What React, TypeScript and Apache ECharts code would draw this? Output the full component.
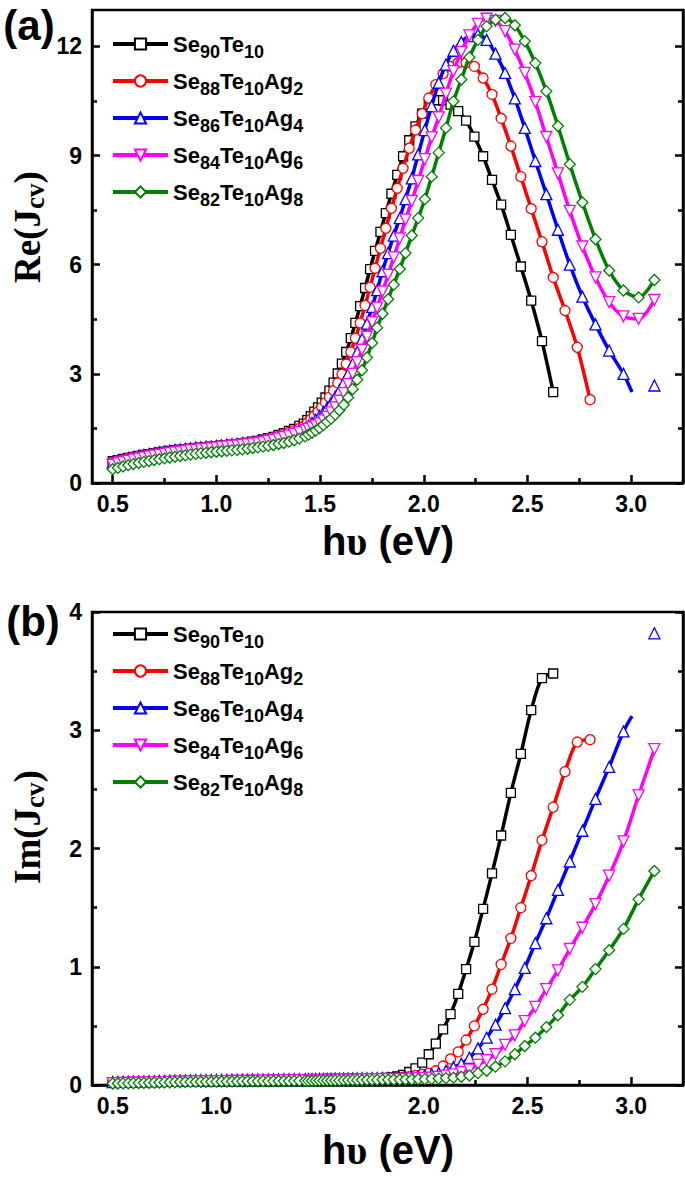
import React, { useEffect, useRef } from "react";
import * as echarts from "echarts";

// ---------- labels / styles ----------
const seriesNames = ["Se90Te10", "Se88Te10Ag2", "Se86Te10Ag4", "Se84Te10Ag6", "Se82Te10Ag8"];
const legendParts = [
  ["Se", "90", "Te", "10"],
  ["Se", "88", "Te", "10", "Ag", "2"],
  ["Se", "86", "Te", "10", "Ag", "4"],
  ["Se", "84", "Te", "10", "Ag", "6"],
  ["Se", "82", "Te", "10", "Ag", "8"],
];
const colors = ["#000000", "#ff0000", "#0000ff", "#ff00ff", "#008000"];
const symbols = ["rect", "circle", "triangle", "triangle", "diamond"];
const symbolRotates = [0, 0, 0, 180, 0];
const symbolSizes = [9, 10, 11, 11, 11];

// ---------- ticks ----------
const xMajor = [0.5, 1.0, 1.5, 2.0, 2.5, 3.0];
const xMinor = [0.75, 1.25, 1.75, 2.25, 2.75];
const reMajor = [0, 3, 6, 9, 12];
const reMinor = [1.5, 4.5, 7.5, 10.5];
const imMajor = [0, 1, 2, 3, 4];
const imMinor = [0.5, 1.5, 2.5, 3.5];

// ---------- photon energy grids (eV) ----------
const lowE = [0.5, 0.525, 0.55, 0.575, 0.6, 0.625, 0.65, 0.675, 0.7, 0.725, 0.75, 0.775, 0.8, 0.825, 0.85, 0.875, 0.9, 0.925, 0.95, 0.975, 1.0, 1.025, 1.05, 1.075, 1.1, 1.125, 1.15, 1.175, 1.2, 1.225, 1.25, 1.275, 1.3, 1.325, 1.35, 1.375, 1.4];
const gridA = [1.421, 1.438, 1.455, 1.472, 1.49, 1.508, 1.526, 1.545, 1.565, 1.585, 1.605, 1.626, 1.648, 1.67, 1.693, 1.717, 1.741, 1.765, 1.791, 1.817, 1.844, 1.872, 1.9, 1.93, 1.96, 1.992, 2.024, 2.058, 2.093, 2.129, 2.166, 2.204, 2.244, 2.286, 2.329, 2.373, 2.42, 2.468, 2.518, 2.57, 2.624, 2.681, 2.74, 2.802];
const gridB = [1.428, 1.444, 1.461, 1.479, 1.497, 1.516, 1.534, 1.553, 1.573, 1.593, 1.614, 1.635, 1.657, 1.679, 1.702, 1.726, 1.751, 1.775, 1.801, 1.828, 1.855, 1.884, 1.912, 1.942, 1.973, 2.005, 2.038, 2.072, 2.107, 2.143, 2.181, 2.22, 2.261, 2.303, 2.346, 2.392, 2.439, 2.487, 2.538, 2.591, 2.647, 2.704, 2.765, 2.828, 2.894, 2.963, 3.036, 3.112];
const blueTailE = [3.004, 3.112];

// ---------- Re(Jcv) ----------
const reBlackLow = [0.6, 0.63, 0.66, 0.69, 0.72, 0.745, 0.77, 0.795, 0.82, 0.84, 0.86, 0.88, 0.9, 0.915, 0.93, 0.945, 0.96, 0.972, 0.985, 0.997, 1.01, 1.025, 1.04, 1.055, 1.07, 1.09, 1.11, 1.135, 1.16, 1.195, 1.23, 1.27, 1.32, 1.37, 1.43, 1.49, 1.57];
const reRedLow = [0.58, 0.615, 0.645, 0.68, 0.71, 0.735, 0.76, 0.785, 0.81, 0.83, 0.85, 0.87, 0.89, 0.91, 0.925, 0.945, 0.96, 0.972, 0.985, 0.997, 1.01, 1.025, 1.04, 1.055, 1.07, 1.09, 1.11, 1.13, 1.15, 1.18, 1.215, 1.25, 1.29, 1.34, 1.39, 1.44, 1.5];
const reBlueLow = [0.57, 0.61, 0.645, 0.68, 0.71, 0.74, 0.77, 0.795, 0.82, 0.845, 0.87, 0.89, 0.91, 0.925, 0.94, 0.955, 0.97, 0.982, 0.995, 1.007, 1.02, 1.035, 1.05, 1.065, 1.08, 1.095, 1.11, 1.13, 1.15, 1.18, 1.21, 1.24, 1.27, 1.31, 1.35, 1.4, 1.45];
const reMagentaLow = [0.5, 0.54, 0.575, 0.61, 0.64, 0.67, 0.7, 0.725, 0.75, 0.775, 0.8, 0.82, 0.84, 0.86, 0.88, 0.895, 0.91, 0.925, 0.94, 0.955, 0.97, 0.985, 1.0, 1.015, 1.03, 1.045, 1.06, 1.08, 1.1, 1.125, 1.155, 1.185, 1.22, 1.26, 1.3, 1.35, 1.4];
const reGreenLow = [0.38, 0.42, 0.455, 0.49, 0.52, 0.55, 0.58, 0.605, 0.63, 0.655, 0.675, 0.7, 0.72, 0.74, 0.76, 0.78, 0.8, 0.815, 0.83, 0.845, 0.86, 0.872, 0.885, 0.897, 0.91, 0.925, 0.94, 0.96, 0.98, 1.0, 1.02, 1.045, 1.07, 1.1, 1.135, 1.175, 1.22];

const reBlackHigh = [1.63, 1.73, 1.84, 1.96, 2.08, 2.21, 2.35, 2.54, 2.76, 3.01, 3.28, 3.6, 3.98, 4.4, 4.86, 5.36, 5.88, 6.38, 6.9, 7.42, 7.95, 8.47, 8.98, 9.42, 9.8, 10.15, 10.4, 10.52, 10.52, 10.4, 10.22, 9.96, 9.52, 8.98, 8.33, 7.65, 6.82, 5.95, 5.01, 3.9, 2.5];
const reRedHigh = [1.56, 1.65, 1.75, 1.85, 1.96, 2.08, 2.21, 2.36, 2.54, 2.75, 2.99, 3.27, 3.6, 3.98, 4.4, 4.88, 5.38, 5.9, 6.45, 7.0, 7.55, 8.1, 8.65, 9.2, 9.7, 10.15, 10.58, 10.95, 11.25, 11.45, 11.55, 11.55, 11.45, 11.13, 10.68, 10.02, 9.26, 8.42, 7.54, 6.63, 5.65, 4.74, 3.73, 2.29];
const reBlueHigh = [1.5, 1.57, 1.65, 1.74, 1.84, 1.95, 2.07, 2.21, 2.37, 2.55, 2.76, 3.0, 3.28, 3.6, 3.96, 4.38, 4.84, 5.3, 5.82, 6.32, 6.8, 7.28, 7.8, 8.37, 9.03, 9.7, 10.36, 11.0, 11.5, 11.88, 12.12, 12.28, 12.33, 12.18, 11.8, 11.27, 10.57, 9.76, 8.85, 7.94, 6.96, 6.0, 5.12, 4.36, 3.64, 3.0];
const reBlueTail = [2.5, 2.68];
const reMagentaHigh = [1.45, 1.49, 1.53, 1.58, 1.64, 1.72, 1.82, 1.94, 2.08, 2.26, 2.47, 2.72, 3.0, 3.32, 3.66, 4.02, 4.42, 4.82, 5.26, 5.72, 6.2, 6.72, 7.24, 7.75, 8.3, 8.9, 9.5, 10.05, 10.7, 11.32, 11.85, 12.3, 12.62, 12.76, 12.7, 12.42, 11.91, 11.27, 10.47, 9.51, 8.51, 7.48, 6.5, 5.65, 4.97, 4.58, 4.51, 5.03];
const reGreenHigh = [1.28, 1.33, 1.38, 1.44, 1.51, 1.59, 1.68, 1.77, 1.88, 2.0, 2.15, 2.35, 2.58, 2.84, 3.1, 3.45, 3.85, 4.27, 4.65, 5.05, 5.45, 5.88, 6.32, 6.8, 7.28, 7.8, 8.42, 9.08, 9.76, 10.49, 11.09, 11.7, 12.18, 12.55, 12.73, 12.78, 12.58, 12.14, 11.54, 10.77, 9.81, 8.76, 7.71, 6.7, 5.84, 5.29, 5.1, 5.58];

// ---------- Im(Jcv) ----------
const imBlackLow = [0.02, 0.021, 0.022, 0.023, 0.024, 0.025, 0.026, 0.027, 0.028, 0.029, 0.03, 0.031, 0.032, 0.033, 0.034, 0.034, 0.035, 0.036, 0.036, 0.037, 0.037, 0.038, 0.038, 0.039, 0.039, 0.04, 0.04, 0.041, 0.041, 0.042, 0.042, 0.043, 0.043, 0.044, 0.044, 0.045, 0.045];
const imRedLow = [0.02, 0.021, 0.022, 0.023, 0.024, 0.025, 0.026, 0.027, 0.028, 0.029, 0.03, 0.031, 0.032, 0.033, 0.033, 0.034, 0.035, 0.035, 0.036, 0.036, 0.037, 0.037, 0.038, 0.038, 0.039, 0.039, 0.04, 0.04, 0.041, 0.041, 0.042, 0.042, 0.043, 0.043, 0.044, 0.044, 0.045];
const imBlueLow = [0.025, 0.026, 0.027, 0.028, 0.029, 0.03, 0.031, 0.032, 0.033, 0.034, 0.035, 0.036, 0.037, 0.038, 0.039, 0.04, 0.04, 0.041, 0.041, 0.042, 0.042, 0.043, 0.043, 0.044, 0.044, 0.045, 0.045, 0.046, 0.046, 0.047, 0.047, 0.048, 0.048, 0.049, 0.049, 0.05, 0.05];
const imMagentaLow = [0.015, 0.016, 0.017, 0.018, 0.019, 0.02, 0.021, 0.022, 0.023, 0.024, 0.025, 0.026, 0.027, 0.028, 0.029, 0.03, 0.03, 0.031, 0.031, 0.032, 0.032, 0.033, 0.033, 0.034, 0.034, 0.035, 0.035, 0.036, 0.036, 0.037, 0.037, 0.038, 0.038, 0.039, 0.039, 0.04, 0.04];
const imGreenLow = [0.012, 0.013, 0.014, 0.015, 0.016, 0.017, 0.018, 0.019, 0.02, 0.021, 0.022, 0.023, 0.024, 0.025, 0.025, 0.026, 0.026, 0.027, 0.027, 0.028, 0.028, 0.029, 0.029, 0.03, 0.03, 0.031, 0.031, 0.032, 0.032, 0.033, 0.033, 0.033, 0.034, 0.034, 0.034, 0.035, 0.035];

const imBlackHigh = [0.045, 0.045, 0.046, 0.046, 0.047, 0.047, 0.048, 0.048, 0.049, 0.049, 0.05, 0.05, 0.051, 0.052, 0.053, 0.054, 0.055, 0.056, 0.058, 0.06, 0.065, 0.072, 0.085, 0.11, 0.14, 0.19, 0.26, 0.35, 0.47, 0.6, 0.77, 0.98, 1.21, 1.49, 1.79, 2.11, 2.47, 2.8, 3.17, 3.44, 3.48];
const imRedHigh = [0.045, 0.045, 0.046, 0.046, 0.047, 0.047, 0.048, 0.048, 0.049, 0.049, 0.05, 0.05, 0.051, 0.051, 0.052, 0.052, 0.053, 0.054, 0.055, 0.056, 0.057, 0.06, 0.065, 0.07, 0.08, 0.09, 0.1, 0.12, 0.16, 0.22, 0.28, 0.38, 0.5, 0.64, 0.81, 1.02, 1.24, 1.5, 1.77, 2.07, 2.35, 2.65, 2.9, 2.92];
const imBlueHigh = [0.05, 0.05, 0.051, 0.051, 0.052, 0.052, 0.053, 0.053, 0.054, 0.054, 0.055, 0.055, 0.056, 0.056, 0.057, 0.057, 0.058, 0.058, 0.059, 0.06, 0.06, 0.062, 0.065, 0.07, 0.075, 0.08, 0.09, 0.1, 0.12, 0.15, 0.18, 0.23, 0.31, 0.4, 0.51, 0.65, 0.81, 0.99, 1.2, 1.41, 1.65, 1.89, 2.15, 2.42, 2.69, 2.99];
const imBlueTail = [3.12, 3.82];
const imMagentaHigh = [0.04, 0.04, 0.041, 0.041, 0.042, 0.042, 0.043, 0.043, 0.044, 0.044, 0.045, 0.045, 0.046, 0.046, 0.047, 0.047, 0.048, 0.048, 0.049, 0.049, 0.05, 0.05, 0.052, 0.054, 0.056, 0.058, 0.062, 0.068, 0.08, 0.09, 0.11, 0.13, 0.17, 0.21, 0.26, 0.34, 0.42, 0.54, 0.66, 0.81, 0.97, 1.15, 1.33, 1.53, 1.77, 2.06, 2.45, 2.84];
const imGreenHigh = [0.035, 0.035, 0.036, 0.036, 0.037, 0.037, 0.038, 0.038, 0.039, 0.039, 0.04, 0.04, 0.041, 0.041, 0.042, 0.042, 0.043, 0.043, 0.044, 0.044, 0.045, 0.045, 0.046, 0.047, 0.048, 0.05, 0.052, 0.055, 0.058, 0.062, 0.07, 0.08, 0.1, 0.12, 0.155, 0.2, 0.26, 0.33, 0.4, 0.49, 0.59, 0.72, 0.83, 0.98, 1.14, 1.32, 1.57, 1.81];

// ---------- helpers ----------
const zip = (xs: number[], ys: number[]) => ys.map((y, i) => [xs[i], y]);
const build = (lowY: number[], grid: number[], highY: number[]) => [...zip(lowE, lowY), ...zip(grid, highY)];
const withTail = (pts: any[], tail: number[]) => [
  ...pts,
  { value: [blueTailE[0], tail[0]], symbol: "none" },
  [blueTailE[1], "-"],
  [blueTailE[1], tail[1]],
];

const SANS = '"Liberation Sans", Arial, sans-serif';
const SERIF = '"Liberation Serif", "Times New Roman", serif';

const tickFont = { fontFamily: SANS, fontWeight: "bold" as const, fontSize: 23, color: "#000" };

function xAxes(g: number) {
  const base = { gridIndex: g, type: "value", min: 0.4, max: 3.25, position: "bottom", splitLine: { show: false } };
  return [
    {
      ...base,
      axisLine: { show: true, onZero: false, lineStyle: { color: "#000", width: 2.5 } },
      axisTick: { show: true, inside: true, length: 8, lineStyle: { color: "#000", width: 2.5 }, customValues: xMajor },
      axisLabel: { show: true, customValues: xMajor, margin: 9, formatter: (v: number) => Number(v).toFixed(1), ...tickFont },
    },
    {
      ...base,
      axisLine: { show: false },
      axisTick: { show: true, inside: true, length: 5, lineStyle: { color: "#000", width: 2.5 }, customValues: xMinor },
      axisLabel: { show: false },
    },
  ];
}

function yAxes(g: number, max: number, major: number[], minor: number[]) {
  const base = { gridIndex: g, type: "value", min: 0, max, splitLine: { show: false } };
  const mk = (pos: string, ticks: number[], len: number, label: boolean, line: boolean) => ({
    ...base,
    position: pos,
    axisLine: { show: line, onZero: false, lineStyle: { color: "#000", width: 2.5 } },
    axisTick: { show: true, inside: true, length: len, lineStyle: { color: "#000", width: 2.5 }, customValues: ticks },
    axisLabel: label
      ? { show: true, customValues: ticks, margin: 10, formatter: (v: number) => String(v), ...tickFont }
      : { show: false },
  });
  return [
    mk("left", major, 8, true, true),
    mk("left", minor, 5, false, false),
    mk("right", major, 8, false, true),
    mk("right", minor, 5, false, false),
  ];
}

function makeSeries(g: number, datas: any[][]) {
  return datas.map((data, i) => ({
    type: "line",
    name: seriesNames[i],
    xAxisIndex: g * 2,
    yAxisIndex: g * 4,
    data,
    smooth: 0.3,
    symbol: symbols[i],
    symbolSize: symbolSizes[i],
    symbolRotate: symbolRotates[i],
    showSymbol: true,
    showAllSymbol: true,
    connectNulls: false,
    lineStyle: { color: colors[i], width: 3.5 },
    itemStyle: { color: "#fff", borderColor: colors[i], borderWidth: 1.3 },
    emphasis: { disabled: true },
    z: 2 + i,
  }));
}

const legendFormatter = (name: string) => {
  const parts = legendParts[seriesNames.indexOf(name)] || [name];
  return parts.map((p, i) => (i % 2 === 0 ? `{b|${p}}` : `{s|${p}}`)).join("");
};

function makeLegend(top: number) {
  return {
    show: true,
    orient: "vertical",
    left: 111,
    top,
    padding: 0,
    itemWidth: 55,
    itemHeight: 14,
    itemGap: 9,
    selectedMode: false,
    data: seriesNames,
    formatter: legendFormatter,
    lineStyle: { width: 4 },
    textStyle: {
      color: "#000",
      rich: {
        b: { fontFamily: SANS, fontWeight: "bold", fontSize: 22, lineHeight: 36, color: "#000" },
        s: { fontFamily: SANS, fontWeight: "bold", fontSize: 18, color: "#000", padding: [16, 0, 0, 0] },
      },
    },
  };
}

function yTitle(x: number, y: number, main: string) {
  return {
    type: "text",
    x,
    y,
    rotation: Math.PI / 2,
    style: {
      text: `{m|${main}(J}{s|cv}{m|)}`,
      align: "center",
      verticalAlign: "middle",
      rich: {
        m: { fontFamily: SERIF, fontWeight: "bold", fontSize: 37, fill: "#000" },
        s: { fontFamily: SERIF, fontWeight: "bold", fontSize: 27, fill: "#000", padding: [16, 0, 0, 0] },
      },
    },
  };
}

function xTitle(x: number, y: number) {
  return {
    type: "text",
    x,
    y,
    style: {
      text: "{h|h}{u|υ}{h| (eV)}",
      align: "center",
      verticalAlign: "middle",
      rich: {
        h: { fontFamily: SANS, fontWeight: "bold", fontSize: 40, fill: "#000" },
        u: { fontFamily: SERIF, fontWeight: "bold", fontSize: 40, fill: "#000" },
      },
    },
  };
}

function panelLabel(x: number, y: number, t: string) {
  return {
    type: "text",
    x,
    y,
    style: { text: t, align: "center", verticalAlign: "middle", fontFamily: SANS, fontWeight: "bold", fontSize: 42, fill: "#000" },
  };
}

export default function App() {
  const ref = useRef<HTMLDivElement>(null);
  useEffect(() => {
    if (!ref.current) return;
    const chart = echarts.init(ref.current, undefined, { renderer: "svg" });
    const reData = [
      build(reBlackLow, gridA, reBlackHigh),
      build(reRedLow, gridA, reRedHigh),
      withTail(build(reBlueLow, gridB, reBlueHigh), reBlueTail),
      build(reMagentaLow, gridB, reMagentaHigh),
      build(reGreenLow, gridB, reGreenHigh),
    ];
    const imData = [
      build(imBlackLow, gridA, imBlackHigh),
      build(imRedLow, gridA, imRedHigh),
      withTail(build(imBlueLow, gridB, imBlueHigh), imBlueTail),
      build(imMagentaLow, gridB, imMagentaHigh),
      build(imGreenLow, gridB, imGreenHigh),
    ];
    const option: any = {
      animation: false,
      backgroundColor: "#fff",
      grid: [
        { left: 92, right: 2, top: 10, height: 473, show: true, borderColor: "#000", borderWidth: 2.5, backgroundColor: "transparent", outerBoundsMode: "none" },
        { left: 92, right: 2, top: 612, height: 473, show: true, borderColor: "#000", borderWidth: 2.5, backgroundColor: "transparent", outerBoundsMode: "none" },
      ],
      xAxis: [...xAxes(0), ...xAxes(1)],
      yAxis: [...yAxes(0, 13, reMajor, reMinor), ...yAxes(1, 4, imMajor, imMinor)],
      legend: [makeLegend(33), makeLegend(623)],
      series: [...makeSeries(0, reData), ...makeSeries(1, imData)],
      graphic: [
        panelLabel(29, 25, "(a)"),
        panelLabel(33, 621, "(b)"),
        yTitle(27, 227, "Re"),
        yTitle(27, 827, "Im"),
        xTitle(388, 541),
        xTitle(388, 1150),
      ],
    };
    chart.setOption(option);
    return () => chart.dispose();
  }, []);
  return <div ref={ref} style={{ position: "absolute", left: 0, top: 0, width: 685, height: 1177 }} />;
}
